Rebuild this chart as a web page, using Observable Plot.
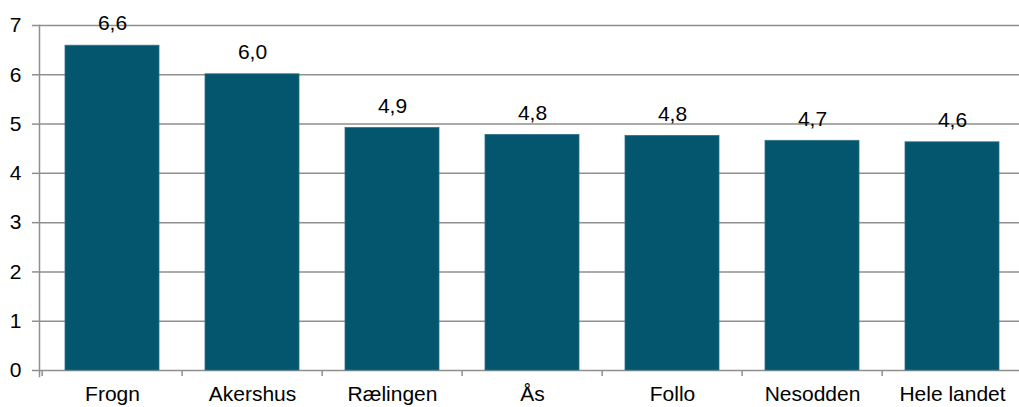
<!DOCTYPE html>
<html>
<head>
<meta charset="utf-8">
<script src="https://cdn.jsdelivr.net/npm/d3@7"></script>
<script src="https://cdn.jsdelivr.net/npm/@observablehq/plot@0.6"></script>
<style>
  html, body { margin: 0; padding: 0; background: #fff; overflow: hidden; }
  svg { display: block; }
</style>
</head>
<body>
<div id="chart"></div>
<script>
const categories = ["Frogn", "Akershus", "Rælingen", "Ås", "Follo", "Nesodden", "Hele landet"];
const values = [6.59, 6.01, 4.92, 4.78, 4.76, 4.66, 4.63];
const yTicks = [0, 1, 2, 3, 4, 5, 6, 7];

const data = categories.map((c, i) => ({category: c, value: values[i]}));

const W = 1019, H = 407;
const mL = 39, mT = 25, mB = 37;
const xRange = [mL, 1024];
const step = (xRange[1] - xRange[0]) / categories.length;
const gray = "#8f8f8f";
const barColor = "#03566e";
const fmt = v => d3.format(".1f")(v).replace(".", ",");

const chart = Plot.plot({
  width: W,
  height: H,
  marginLeft: mL,
  marginRight: 0,
  marginTop: mT,
  marginBottom: mB,
  style: {fontFamily: "Liberation Sans, Arial, sans-serif", fontSize: "21px", color: "#000", background: "#fff"},
  x: {domain: categories, range: xRange, padding: 0, label: null},
  y: {domain: [0, 7], label: null},
  marks: [
    Plot.gridY(yTicks, {stroke: gray, strokeOpacity: 1, strokeWidth: 1.5}),
    Plot.barY(data, {x: "category", y: "value", fill: barColor, stroke: "#2f7388", strokeWidth: 0.8, insetLeft: 23, insetRight: 23}),
    Plot.ruleX(categories, {x: d => d, dx: -step / 2, y1: 0, y2: 0, insetBottom: -6, stroke: gray, strokeWidth: 1.5}),
    Plot.frame({anchor: "left", stroke: gray, strokeWidth: 1.5, insetBottom: -6}),
    Plot.axisY(yTicks, {tickSize: 7, tickPadding: 11, stroke: gray, strokeWidth: 1.5, fontSize: 21, fill: "#000", label: null}),
    Plot.axisX({tickSize: 0, tickPadding: 16, fontSize: 21, fill: "#000", label: null}),
    Plot.text(data, {x: "category", y: "value", text: d => fmt(d.value), dy: -22, fontSize: 21, fill: "#000"})
  ]
});
document.getElementById("chart").appendChild(chart);
</script>
</body>
</html>
